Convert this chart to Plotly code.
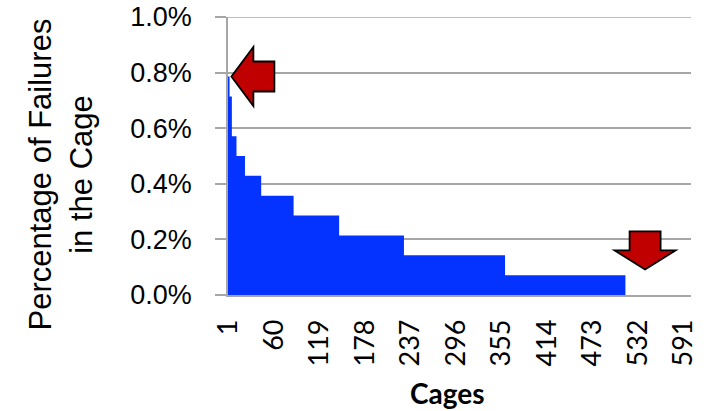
import plotly.graph_objects as go

# Failure share per cage, grouped into runs of equal value (percent)
level_pct = [0.786, 0.714, 0.571, 0.500, 0.429, 0.357, 0.286, 0.214, 0.143, 0.071]
cages_per_level = [2, 3, 6, 11, 21, 42, 59, 84, 131, 156]
total_cages = 600
tick_cages = [1, 60, 119, 178, 237, 296, 355, 414, 473, 532, 591]

# expand to one value per cage
cage_values = []
for pct, n in zip(level_pct, cages_per_level):
    cage_values += [pct / 100.0] * n
cage_values += [0.0] * (total_cages - len(cage_values))
cages = list(range(1, total_cages + 1))

# step outline: each cage occupies [c-0.5, c+0.5]
step_x = [c - 0.5 for c in cages] + [cages[-1] + 0.5]
step_y = cage_values + [cage_values[-1]]

fig = go.Figure()
fig.add_trace(go.Scatter(
    x=step_x, y=step_y, mode="lines", line=dict(shape="hv", width=0, color="#0433FF"),
    fill="tozeroy", fillcolor="#0433FF", hoverinfo="skip", showlegend=False,
))

grid = "#A6A6A6"
fig.update_layout(
    width=723, height=411,
    margin=dict(l=228, r=32, t=17, b=116),
    paper_bgcolor="white", plot_bgcolor="white",
    xaxis=dict(
        range=[0.5, total_cages + 0.5], tickmode="array", tickvals=tick_cages,
        ticktext=[str(t) for t in tick_cages], tickangle=-90,
        tickfont=dict(family="Lato", size=27, color="black"),
        showgrid=False, zeroline=False, showline=True, linecolor=grid, linewidth=1.5,
        ticks="", ticklabelstandoff=12, automargin=False,
    ),
    yaxis=dict(
        range=[0, 0.01], dtick=0.002, tick0=0, tickformat=".1%",
        tickfont=dict(family="Liberation Sans", size=27, color="black"),
        showgrid=True, gridcolor=grid, gridwidth=1.5, zeroline=False,
        showline=True, linecolor=grid, linewidth=1.5,
        ticks="outside", ticklen=11, tickcolor=grid, tickwidth=1.5,
        ticklabelstandoff=18, automargin=False,
    ),
)

# top gridline at 1.0%, level with the plot's upper edge
fig.add_shape(type="line", xref="paper", yref="y", x0=0, x1=1, y0=0.01, y1=0.01,
              line=dict(color=grid, width=1.5), layer="below")

# axis titles
fig.add_annotation(
    text="Percentage of Failures<br>in the Cage", textangle=-90,
    xref="paper", yref="paper", x=-0.362, y=0.435, xanchor="center", yanchor="middle",
    showarrow=False, font=dict(family="Liberation Sans", size=31, color="black"),
)
fig.add_annotation(
    text="<b>Cages</b>", xref="paper", yref="paper", x=0.475, y=-0.3525,
    xanchor="center", yanchor="middle", showarrow=False,
    font=dict(family="Lato", size=28, color="black"),
)

# highlight arrows (pixel-sized, anchored in data space)
arrow_style = dict(type="path", fillcolor="#C00000", line=dict(color="black", width=1.8),
                   xref="x", yref="y", xsizemode="pixel", ysizemode="pixel", layer="above")
fig.add_shape(
    xanchor=cages[0], yanchor=cage_values[0],
    path="M 3,0 L 25,29.5 L 25,15 L 46,15 L 46,-15 L 25,-15 L 25,-29.5 Z", **arrow_style,
)
fig.add_shape(
    xanchor=541, yanchor=0.00092,
    path="M 0,0 L -30.5,19 L -15.5,19 L -15.5,38 L 15.5,38 L 15.5,19 L 30.5,19 Z", **arrow_style,
)

fig.write_html("out.html")
